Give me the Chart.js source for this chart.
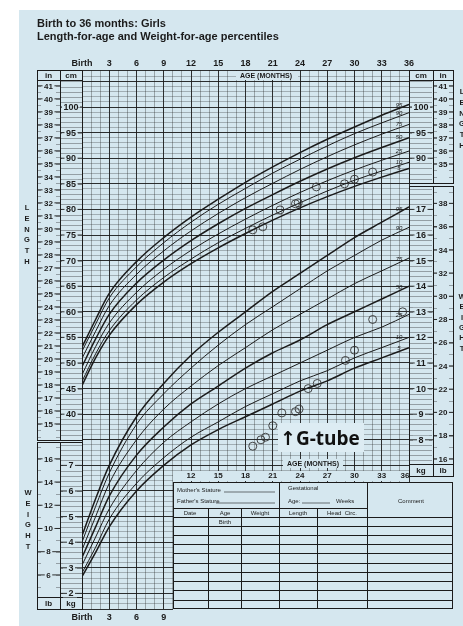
<!DOCTYPE html>
<html><head><meta charset="utf-8">
<script src="https://cdn.jsdelivr.net/npm/chart.js@4.4.1/dist/chart.umd.min.js"></script>
<style>html,body{margin:0;padding:0;background:#fff;}canvas{display:block}</style>
</head><body>
<div style="width:463px;height:626px;position:relative"><canvas id="c" width="463" height="626"></canvas></div>
<script>
// ---------- data ----------
const ages = [0, 1.5, 3, 6, 9, 12, 15, 18, 21, 24, 27, 30, 33, 36];
const percentileNames = ['5', '10', '25', '50', '75', '90', '95'];
// Length-for-age (cm)
const len_p5  = [45.6, 51.0, 55.4, 61.4, 65.8, 69.4, 72.5, 75.3, 77.9, 80.3, 82.5, 84.5, 86.3, 88.0];
const len_p10 = [46.4, 51.8, 56.3, 62.3, 66.7, 70.3, 73.5, 76.3, 78.9, 81.3, 83.6, 85.7, 87.5, 89.2];
const len_p25 = [47.7, 53.2, 57.8, 63.8, 68.3, 72.0, 75.2, 78.1, 80.8, 83.3, 85.6, 87.7, 89.6, 91.4];
const len_p50 = [49.3, 54.7, 59.5, 65.6, 70.1, 73.9, 77.2, 80.2, 82.9, 85.5, 87.9, 90.1, 92.1, 94.0];
const len_p75 = [50.9, 56.2, 61.2, 67.3, 71.9, 75.8, 79.2, 82.3, 85.1, 87.8, 90.3, 92.6, 94.7, 96.6];
const len_p90 = [52.3, 57.6, 62.7, 68.8, 73.5, 77.5, 81.0, 84.1, 87.1, 89.8, 92.4, 94.8, 96.9, 98.9];
const len_p95 = [53.1, 58.5, 63.6, 69.8, 74.5, 78.5, 82.0, 85.3, 88.3, 91.1, 93.7, 96.1, 98.4, 100.5];
// Weight-for-age (kg)
const wt_p5  = [2.65, 3.6, 4.6, 6.0, 7.0, 7.8, 8.4, 8.9, 9.4, 9.9, 10.3, 10.8, 11.2, 11.6];
const wt_p10 = [2.8, 3.8, 4.9, 6.3, 7.3, 8.1, 8.7, 9.3, 9.8, 10.3, 10.7, 11.2, 11.6, 12.0];
const wt_p25 = [3.1, 4.2, 5.3, 6.8, 7.9, 8.7, 9.4, 10.0, 10.5, 11.0, 11.5, 12.0, 12.4, 12.9];
const wt_p50 = [3.4, 4.6, 5.8, 7.4, 8.5, 9.4, 10.1, 10.8, 11.4, 11.9, 12.5, 13.0, 13.5, 14.0];
const wt_p75 = [3.7, 5.0, 6.3, 8.0, 9.2, 10.1, 10.9, 11.6, 12.3, 12.9, 13.5, 14.1, 14.6, 15.1];
const wt_p90 = [4.0, 5.4, 6.7, 8.6, 9.8, 10.8, 11.7, 12.5, 13.2, 13.9, 14.6, 15.2, 15.8, 16.3];
const wt_p95 = [4.25, 5.7, 7.0, 8.9, 10.2, 11.3, 12.2, 13.0, 13.8, 14.5, 15.2, 15.9, 16.5, 17.1];
// Patient measurements
const patLenAges = [18.8, 19.9, 21.8, 23.5, 23.8, 25.8, 28.9, 30.0, 32.0];
const patLenVals = [76.0, 76.6, 79.9, 81.1, 81.3, 84.4, 85.0, 85.9, 87.3];
const patWtAges = [18.8, 19.7, 20.2, 21.0, 22.0, 23.5, 23.9, 24.9, 25.9, 29.0, 30.0, 32.0, 35.3];
const patWtVals = [7.75, 8.0, 8.1, 8.55, 9.05, 9.1, 9.2, 10.0, 10.2, 11.1, 11.5, 12.7, 13.0];
// Tick labels
const topMonthLabels = ['Birth', '3', '6', '9', '12', '15', '18', '21', '24', '27', '30', '33', '36'];
const bottomMonthLabels = ['Birth', '3', '6', '9'];
const lowerRowMonthLabels = ['12', '15', '18', '21', '24', '27', '30', '33', '36'];
const cmLabelsLeft = [40, 45, 50, 55, 60, 65, 70, 75, 80, 85, 90, 95, 100];
const inLabelsLeft = [15,16,17,18,19,20,21,22,23,24,25,26,27,28,29,30,31,32,33,34,35,36,37,38,39,40,41];
const kgLabelsLeft = [2, 3, 4, 5, 6, 7];
const lbLabelsLeft = [6, 8, 10, 12, 14, 16];
const cmLabelsRight = [90, 95, 100];
const inLabelsRight = [35, 36, 37, 38, 39, 40, 41];
const kgLabelsRight = [8, 9, 10, 11, 12, 13, 14, 15, 16, 17];
const lbLabelsRight = [16, 18, 20, 22, 24, 26, 28, 30, 32, 34, 36, 38];

// ---------- style ----------
const BG = 'rgb(213,231,239)';
const INK = '#1b1b1b';
const FONT = '"Liberation Sans", Arial, sans-serif';
const CM_MIN = 1.95, CM_MAX = 107.23;   // vertical range in cm units
const kgFromCm = c => (c + 5) / 5;       // weight grid shares the same paper

const lenArrays = [len_p5, len_p10, len_p25, len_p50, len_p75, len_p90, len_p95];
const wtArrays = [wt_p5, wt_p10, wt_p25, wt_p50, wt_p75, wt_p90, wt_p95];
const heavy = n => (n === '5' || n === '50' || n === '95');

const datasets = [];
lenArrays.forEach((arr, i) => datasets.push({
  label: 'L' + percentileNames[i], yAxisID: 'y',
  data: ages.map((a, j) => ({x: a, y: arr[j]})),
  borderColor: INK, borderWidth: heavy(percentileNames[i]) ? 1.5 : 1.0,
  pointRadius: 0, cubicInterpolationMode: 'monotone', fill: false
}));
wtArrays.forEach((arr, i) => datasets.push({
  label: 'W' + percentileNames[i], yAxisID: 'yw',
  data: ages.map((a, j) => ({x: a, y: arr[j]})),
  borderColor: INK, borderWidth: heavy(percentileNames[i]) ? 1.5 : 1.0,
  pointRadius: 0, cubicInterpolationMode: 'monotone', fill: false
}));
datasets.push({label: 'patLen', yAxisID: 'y', showLine: false,
  data: patLenAges.map((a, j) => ({x: a, y: patLenVals[j]})),
  pointStyle: 'circle', pointRadius: 4, pointBorderWidth: 0.9,
  pointBorderColor: '#333', pointBackgroundColor: 'rgba(0,0,0,0)'});
datasets.push({label: 'patWt', yAxisID: 'yw', showLine: false,
  data: patWtAges.map((a, j) => ({x: a, y: patWtVals[j]})),
  pointStyle: 'circle', pointRadius: 4, pointBorderWidth: 0.9,
  pointBorderColor: '#333', pointBackgroundColor: 'rgba(0,0,0,0)'});

function interp(arr, age) {
  for (let i = 0; i < ages.length - 1; i++) {
    if (age >= ages[i] && age <= ages[i + 1]) {
      const t = (age - ages[i]) / (ages[i + 1] - ages[i]);
      return arr[i] + t * (arr[i + 1] - arr[i]);
    }
  }
  return arr[arr.length - 1];
}

function tickLabel(ctx, text, cx, y, x0, x1, font) {
  ctx.font = font;
  const w = ctx.measureText(text).width;
  ctx.strokeStyle = INK; ctx.lineWidth = 0.9;
  ctx.beginPath();
  ctx.moveTo(x0, y); ctx.lineTo(cx - w / 2 - 1.5, y);
  ctx.moveTo(cx + w / 2 + 1.5, y); ctx.lineTo(x1, y);
  ctx.stroke();
  ctx.fillStyle = INK; ctx.textAlign = 'center'; ctx.textBaseline = 'middle';
  ctx.fillText(text, cx, y + 0.5);
}

const overlay = {
  id: 'overlay',
  beforeDraw(chart) {
    const c = chart.ctx; c.save();
    c.fillStyle = '#fff'; c.fillRect(0, 0, 463, 626);
    c.fillStyle = BG; c.fillRect(19, 10, 444, 616);
    c.restore();
  },
  beforeDatasetsDraw(chart) {
    const c = chart.ctx;
    c.save();
    c.fillStyle = BG;
    c.fillRect(173, 471, 236, 10);
    // table
    c.fillRect(173, 482, 280, 128);
    c.strokeStyle = INK; c.lineWidth = 1;
    c.strokeRect(173.5, 482.5, 279, 126);
    c.beginPath();
    c.moveTo(279.5, 482); c.lineTo(279.5, 609);
    c.moveTo(367.5, 482); c.lineTo(367.5, 609);
    [208.5, 241.5, 317.5].forEach(x => { c.moveTo(x, 508); c.lineTo(x, 609); });
    c.moveTo(173, 508.5); c.lineTo(367, 508.5);
    [517, 526, 535, 544, 553, 563, 572, 581, 590, 600].forEach(y => { c.moveTo(173, y + 0.5); c.lineTo(453, y + 0.5); });
    c.stroke();
    c.lineWidth = 0.6;
    c.beginPath();
    c.moveTo(224, 492); c.lineTo(275, 492);
    c.moveTo(216, 503); c.lineTo(275, 503);
    c.moveTo(302, 503); c.lineTo(330, 503);
    c.stroke();
    c.fillStyle = INK; c.font = '6px ' + FONT; c.textBaseline = 'alphabetic'; c.textAlign = 'left';
    c.fillText("Mother's Stature", 177, 492);
    c.fillText("Father's Stature", 177, 503);
    c.fillText('Gestational', 288, 490);
    c.fillText('Age:', 288, 503);
    c.fillText('Weeks', 336, 503);
    c.textAlign = 'center';
    c.fillText('Comment', 411, 503);
    c.fillText('Date', 190, 515);
    c.fillText('Age', 225, 515);
    c.fillText('Weight', 260, 515);
    c.fillText('Length', 298, 515);
    c.fillText('Head  Circ.', 342, 515);
    c.fillText('Birth', 225, 524);
    // G-tube box
    c.fillStyle = 'rgb(221,236,243)';
    c.fillRect(278, 423, 86, 29);
    // AGE (MONTHS) backgrounds
    c.fillStyle = BG;
    c.fillRect(283, 459, 60, 9);
    c.fillRect(236, 71, 62, 9);
    c.restore();
  },
  afterDraw(chart) {
    const c = chart.ctx;
    const X = v => chart.scales.x.getPixelForValue(v);
    const YC = v => chart.scales.y.getPixelForValue(v);
    const YW = v => chart.scales.yw.getPixelForValue(v);
    c.save();
    c.fillStyle = INK;
    // titles
    c.font = 'bold 11px ' + FONT; c.textAlign = 'left'; c.textBaseline = 'alphabetic';
    c.fillText('Birth to 36 months: Girls', 37, 27);
    c.fillText('Length-for-age and Weight-for-age percentiles', 37, 40);
    // top month labels
    c.font = 'bold 9px ' + FONT; c.textAlign = 'center';
    topMonthLabels.forEach((t, i) => c.fillText(t, X(i * 3), 66));
    bottomMonthLabels.forEach((t, i) => c.fillText(t, X(i * 3), 620));
    // lower row labels
    c.font = 'bold 8px ' + FONT; c.textBaseline = 'middle';
    lowerRowMonthLabels.forEach((t, i) => c.fillText(t, i === 8 ? X(36) - 4 : X(12 + i * 3), 476));
    // AGE (MONTHS)
    c.font = 'bold 7px ' + FONT;
    c.fillText('AGE (MONTHS)', 266, 76);
    c.fillText('AGE (MONTHS)', 313, 464);

    // boxes
    c.strokeStyle = INK; c.lineWidth = 1;
    const box = (x0, y0, x1, y1) => c.strokeRect(x0 + 0.5, y0 + 0.5, x1 - x0, y1 - y0);
    c.fillStyle = BG; c.fillRect(37, 70, 45, 370);
    box(37, 70, 60, 440); box(60, 70, 82, 440);
    box(37, 70, 60, 80); box(60, 70, 82, 80);
    c.fillStyle = BG; c.fillRect(37, 442, 45, 167);
    box(37, 442, 60, 609); box(60, 442, 82, 609);
    box(37, 597, 60, 609); box(60, 597, 82, 609);
    c.fillStyle = BG; c.fillRect(409, 70, 44, 113);
    box(409, 70, 433, 183); box(433, 70, 453, 183);
    box(409, 70, 433, 80); box(433, 70, 453, 80);
    c.fillStyle = BG; c.fillRect(410, 186, 43, 290);
    box(409, 186, 433, 476); box(433, 186, 453, 476);
    box(409, 464, 433, 476); box(433, 464, 453, 476);

    // minor lines in cm / kg columns
    c.lineWidth = 0.6; c.strokeStyle = 'rgba(30,30,30,0.6)';
    c.beginPath();
    for (let v = 36; v <= 105; v++) { const y = Math.round(YC(v)) + 0.5; if (y > 81 && y < 439) { c.moveTo(61, y); c.lineTo(82, y); } }
    for (let v = 86; v <= 105; v++) { const y = Math.round(YC(v)) + 0.5; if (y > 81 && y < 182) { c.moveTo(409, y); c.lineTo(432, y); } }
    for (let v = 1.6; v <= 8; v += 0.2) { const y = Math.round(YW(v)) + 0.5; if (y > 443 && y < 596) { c.moveTo(61, y); c.lineTo(82, y); } }
    for (let v = 7.2; v <= 18; v += 0.2) { const y = Math.round(YW(v)) + 0.5; if (y > 187 && y < 463) { c.moveTo(409, y); c.lineTo(432, y); } }
    for (let v = 14; v <= 41.5; v += 0.5) { const y = Math.round(YC(v * 2.54)) + 0.5; if (y > 81 && y < 439) { c.moveTo(37, y); c.lineTo(41, y); c.moveTo(56, y); c.lineTo(60, y);} }
    for (let v = 34; v <= 41.5; v += 0.5) { const y = Math.round(YC(v * 2.54)) + 0.5; if (y > 81 && y < 182) { c.moveTo(433, y); c.lineTo(437, y); c.moveTo(449, y); c.lineTo(453, y);} }
    for (let v = 4; v <= 17; v += 1) { const y = Math.round(YW(v * 0.45359)) + 0.5; if (y > 443 && y < 596) { c.moveTo(37, y); c.lineTo(41, y); c.moveTo(56, y); c.lineTo(60, y);} }
    for (let v = 15; v <= 39; v += 1) { const y = Math.round(YW(v * 0.45359)) + 0.5; if (y > 187 && y < 463) { c.moveTo(433, y); c.lineTo(437, y); c.moveTo(449, y); c.lineTo(453, y);} }
    c.stroke();

    // axis labels
    const f8 = 'bold 8px ' + FONT, f9 = 'bold 9px ' + FONT;
    cmLabelsLeft.forEach(v => { c.fillStyle = BG; c.fillRect(62, YC(v) - 4, 16, 8); tickLabel(c, String(v), 71, YC(v), 60, 82, f9); });
    inLabelsLeft.forEach(v => tickLabel(c, String(v), 48.5, YC(v * 2.54), 37, 60, f8));
    kgLabelsLeft.forEach(v => { c.fillStyle = BG; c.fillRect(63, YW(v) - 4, 14, 8); tickLabel(c, String(v), 71, YW(v), 60, 82, f9); });
    lbLabelsLeft.forEach(v => tickLabel(c, String(v), 48.5, YW(v * 0.45359), 37, 60, f8));
    cmLabelsRight.forEach(v => { c.fillStyle = BG; c.fillRect(412, YC(v) - 4, 18, 8); tickLabel(c, String(v), 421, YC(v), 409, 433, f9); });
    inLabelsRight.forEach(v => tickLabel(c, String(v), 443, YC(v * 2.54), 433, 453, f8));
    kgLabelsRight.forEach(v => { c.fillStyle = BG; c.fillRect(413, YW(v) - 4, 16, 8); tickLabel(c, String(v), 421, YW(v), 409, 433, f9); });
    lbLabelsRight.forEach(v => tickLabel(c, String(v), 443, YW(v * 0.45359), 433, 453, f8));
    // column headers
    c.fillStyle = INK; c.font = 'bold 8px ' + FONT; c.textAlign = 'center'; c.textBaseline = 'middle';
    c.fillText('in', 48.5, 75.5); c.fillText('cm', 71, 75.5);
    c.fillText('cm', 421, 75.5); c.fillText('in', 443, 75.5);
    c.fillText('lb', 48.5, 603.5); c.fillText('kg', 71, 603.5);
    c.fillText('kg', 421, 470.5); c.fillText('lb', 443, 470.5);

    // vertical side words
    c.font = 'bold 7.5px ' + FONT;
    'LENGTH'.split('').forEach((ch, i) => c.fillText(ch, 27, 208 + i * 10.8));
    'WEIGHT'.split('').forEach((ch, i) => c.fillText(ch, 28, 493 + i * 10.8));
    'LENGTH'.split('').forEach((ch, i) => c.fillText(ch, 462, 92 + i * 10.8));
    'WEIGHT'.split('').forEach((ch, i) => c.fillText(ch, 462, 297 + i * 10.3));

    // percentile labels
    c.font = 'italic 6px ' + FONT;
    percentileNames.forEach((n, i) => {
      c.fillText(n, X(34.9), YC(interp(lenArrays[i], 34.9)) - 3.5);
      c.fillText(n, X(34.9), YW(interp(wtArrays[i], 34.9)) - 3.5);
    });

    // G-tube text
    c.font = 'bold 19px "Open Sans", "DejaVu Sans", sans-serif';
    c.textAlign = 'left'; c.textBaseline = 'alphabetic';
    c.fillStyle = '#111';
    c.fillText('\u2191G-tube', 280, 445);
    c.restore();
  }
};

const gridColor = (major) => major ? 'rgba(25,25,25,0.9)' : 'rgba(40,40,40,0.5)';
new Chart(document.getElementById('c'), {
  type: 'line',
  data: {datasets},
  options: {
    responsive: false, animation: false, devicePixelRatio: 1,
    layout: {padding: {left: 82, right: 54, top: 70, bottom: 17}},
    plugins: {legend: {display: false}, tooltip: {enabled: false}},
    scales: {
      x: {type: 'linear', min: 0, max: 36,
        ticks: {display: false, stepSize: 1},
        border: {display: false},
        grid: {drawTicks: false,
          color: ctx => gridColor(ctx.tick && ctx.tick.value % 3 === 0),
          lineWidth: ctx => (ctx.tick && ctx.tick.value % 3 === 0) ? 1 : 0.7}},
      y: {type: 'linear', min: CM_MIN, max: CM_MAX,
        ticks: {display: false, stepSize: 1},
        border: {display: false},
        grid: {drawTicks: false,
          color: ctx => { const v = ctx.tick ? ctx.tick.value : 0; return gridColor(!Number.isInteger(v) || v % 5 === 0); },
          lineWidth: ctx => { const v = ctx.tick ? ctx.tick.value : 0; return (!Number.isInteger(v) || v % 5 === 0) ? 1 : 0.6; }}},
      yw: {type: 'linear', display: false, min: kgFromCm(CM_MIN), max: kgFromCm(CM_MAX)}
    }
  },
  plugins: [overlay]
});
</script>
</body></html>
